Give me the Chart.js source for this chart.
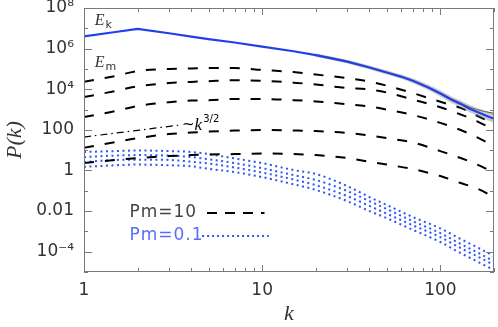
<!DOCTYPE html>
<html>
<head>
<meta charset="utf-8">
<script src="https://cdn.jsdelivr.net/npm/chart.js@4.4.0/dist/chart.umd.min.js"></script>
<style>
  html, body { margin: 0; padding: 0; background: #fff; }
</style>
</head>
<body>
<canvas id="myChart" width="498" height="327"></canvas>
<script>
// wavenumbers used by the magnetic curves
const kVals = [1, 1.5, 2, 3, 4, 5, 7, 10, 15, 20, 30, 40, 50, 70, 100, 130, 160, 200];
// finer grid for the kinetic spectrum
const ekK = [1, 1.5, 2, 3, 4, 5, 7, 10, 15, 20, 25, 30, 40, 50, 60, 70, 85, 100, 115, 130, 145, 160, 180, 200];
const ekVals = [4.0e6, 6.6e6, 9.3e6, 5.7e6, 3.9e6, 2.95e6, 2.0e6, 1.26e6, 7.4e5, 4.8e5, 3.2e5, 2.3e5, 1.18e5, 6.7e4, 4.2e4, 2.6e4, 1.26e4, 6.2e3, 3.1e3, 1.9e3, 1.13e3, 780, 510, 355];

// grey spread of the other runs around E_k (only visible at high k)
const bandK     = [20, 25, 30, 40, 50, 60, 70, 85, 100, 115, 130, 145, 160, 180, 200];
const ekHiVals  = [4.85e5, 3.25e5, 2.35e5, 1.22e5, 7.0e4, 4.5e4, 2.85e4, 1.42e4, 7.2e3, 3.7e3, 2.3e3, 1.45e3, 1.03e3, 700, 510];
const ekLoVals  = [4.75e5, 3.15e5, 2.25e5, 1.14e5, 6.4e4, 3.95e4, 2.4e4, 1.12e4, 5.3e3, 2.6e3, 1.55e3, 900, 610, 390, 265];
const topK      = [70, 85, 100, 115, 130, 145, 160, 180, 200];
const ekTopVals = [2.65e4, 1.3e4, 6.6e3, 3.4e3, 2.1e3, 1.35e3, 1.0e3, 780, 640];

// magnetic spectra, Pm=10 (black dashed)
const emA = [2.3e4, 4.5e4, 7.9e4, 9.9e4, 1.05e5, 1.1e5, 1.1e5, 8.9e4, 7.0e4, 5.3e4, 3.5e4, 2.4e4, 1.5e4, 6.5e3, 2.4e3, 1.2e3, 510, 200];
const emB = [4.1e3, 8.2e3, 1.4e4, 2.0e4, 2.3e4, 2.5e4, 2.8e4, 2.6e4, 2.1e4, 1.7e4, 1.15e4, 9.7e3, 6.9e3, 3.1e3, 1.3e3, 570, 270, 98];
const emC = [430, 840, 1.5e3, 2.3e3, 2.75e3, 2.9e3, 3.3e3, 3.3e3, 2.9e3, 2.5e3, 1.8e3, 1.4e3, 1.0e3, 540, 220, 98, 44, 16];
const emD = [13, 25, 39, 62, 74, 82, 92, 98, 93, 87, 70, 52, 39, 24, 9.0, 4.1, 2.0, 0.79];
const emE = [2.3, 3.3, 4.1, 5.1, 5.7, 6.1, 6.4, 6.8, 6.4, 5.7, 4.1, 2.7, 1.95, 1.17, 0.53, 0.24, 0.13, 0.049];

// magnetic spectra, Pm=0.1 (blue dotted)
const lowA = [8.1, 9.0, 9.6, 9.0, 8.1, 6.4, 3.9, 2.3, 1.05, 0.67, 0.17, 0.049, 0.020, 0.0051, 0.0014, 4.2e-4, 1.7e-4, 6.1e-5];
const lowB = [4.6, 5.4, 5.7, 5.4, 4.6, 3.6, 2.3, 1.3, 0.59, 0.34, 0.097, 0.031, 0.0126, 0.0032, 8.2e-4, 2.4e-4, 9.5e-5, 3.4e-5];
const lowC = [2.6, 3.3, 3.4, 3.3, 2.7, 2.2, 1.4, 0.79, 0.36, 0.19, 0.055, 0.018, 0.0075, 0.0020, 5.2e-4, 1.5e-4, 6.1e-5, 2.2e-5];
const lowD = [1.5, 1.8, 1.95, 1.8, 1.6, 1.2, 0.83, 0.47, 0.21, 0.11, 0.031, 0.010, 0.0045, 0.0012, 3.0e-4, 8.5e-5, 3.4e-5, 1.24e-5];

// ~k^(3/2) guide line
const refK = [1, 3.4];
const refVals = [44, 170];

// axis ticks
const xTickVals = [1, 2, 3, 4, 5, 6, 7, 8, 9, 10, 20, 30, 40, 50, 60, 70, 80, 90, 100, 200];
const xLabelVals = [1, 10, 100];
const xLabels = ['1', '10', '100'];
const yExps = [-5, -4, -3, -2, -1, 0, 1, 2, 3, 4, 5, 6, 7, 8];
const yLabelExps = [-4, -2, 0, 2, 4, 6, 8];
const yLabels = ['10\u207B\u2074', '0.01', '1', '100', '10\u2074', '10\u2076', '10\u2078'];

const BLUE = '#2340e6';
const DOT_BLUE = '#2f55f5';

function pts(ks, vals) {
    return ks.map((k, i) => ({x: k, y: vals[i]}));
}

function dashed(vals) {
    return {data: pts(kVals, vals), borderColor: '#000', borderWidth: 2, borderDash: [10, 11], cubicInterpolationMode: 'monotone', order: 3};
}
function dotted(vals) {
    return {data: pts(kVals, vals), borderColor: DOT_BLUE, borderWidth: 2, borderDash: [2, 3.5], cubicInterpolationMode: 'monotone', order: 4};
}
function band(ks, vals, color, width) {
    return {data: pts(ks, vals), borderColor: color, borderWidth: width, cubicInterpolationMode: 'monotone', order: 2};
}

var datasets = [
    {data: pts(ekK, ekVals), borderColor: BLUE, borderWidth: 2.2, tension: 0, order: 0},
    band(bandK, ekHiVals, 'rgba(150,150,150,0.5)', 3),
    band(bandK, ekLoVals, 'rgba(150,150,150,0.5)', 3),
    band(topK, ekTopVals, '#333', 1),
    dashed(emA), dashed(emB), dashed(emC), dashed(emD), dashed(emE),
    dotted(lowA), dotted(lowB), dotted(lowC), dotted(lowD),
    {data: pts(refK, refVals), borderColor: '#000', borderWidth: 1.2, borderDash: [7, 4, 1.5, 4], tension: 0, order: 3}
];

// inward tick marks, grey frame, labels in the plot
const extras = {
    id: 'extras',
    afterDraw(chart) {
        const {ctx, chartArea: a, scales: {x, y}} = chart;
        ctx.save();
        ctx.strokeStyle = '#7a7a7a';
        ctx.lineWidth = 1;
        ctx.beginPath();
        xTickVals.forEach(v => {
            const px = Math.round(x.getPixelForValue(v)) + 0.5;
            const len = xLabelVals.includes(v) ? 7 : 4;
            ctx.moveTo(px, a.bottom); ctx.lineTo(px, a.bottom - len);
            ctx.moveTo(px, a.top); ctx.lineTo(px, a.top + len);
        });
        yExps.forEach(e => {
            const py = Math.round(y.getPixelForValue(Math.pow(10, e))) + 0.5;
            const len = yLabelExps.includes(e) ? 8 : 4;
            ctx.moveTo(a.left, py); ctx.lineTo(a.left + len, py);
            ctx.moveTo(a.right, py); ctx.lineTo(a.right - len, py);
        });
        ctx.stroke();
        ctx.strokeRect(Math.round(a.left) + 0.5, Math.round(a.top) + 0.5, Math.round(a.right - a.left) - 1, Math.round(a.bottom - a.top) - 1);

        ctx.textBaseline = 'alphabetic';
        ctx.textAlign = 'left';
        // E_k, E_m
        const ex = x.getPixelForValue(1.15);
        [[1.45e7, 'k'], [1.3e5, 'm']].forEach(([p, sub]) => {
            const ey = y.getPixelForValue(p);
            ctx.fillStyle = '#333';
            ctx.font = 'italic 16px "Liberation Serif"';
            ctx.fillText('E', ex, ey);
            const w = ctx.measureText('E').width;
            ctx.font = '11px "DejaVu Sans"';
            ctx.fillText(sub, ex + w + 1, ey + 3);
        });
        // ~k^{3/2}
        let tx = x.getPixelForValue(3.55);
        const ty = y.getPixelForValue(98);
        ctx.fillStyle = '#000';
        ctx.font = '15px "DejaVu Sans"';
        ctx.fillText('~', tx, ty - 1);
        tx += ctx.measureText('~').width;
        ctx.font = 'italic 17px "Liberation Serif"';
        ctx.fillText('k', tx, ty);
        tx += ctx.measureText('k').width + 1;
        ctx.font = '10px "DejaVu Sans"';
        ctx.fillText('3/2', tx, ty - 8);

        // legend
        const lx = x.getPixelForValue(1.8);
        const rows = [
            {p: 0.008, text: 'Pm=10', color: '#444', line: '#000', dash: [10, 8], x0: 4.9, x1: 10.3},
            {p: 5.9e-4, text: 'Pm=0.1', color: '#5a6cff', line: DOT_BLUE, dash: [2, 3], x0: 4.6, x1: 10.9}
        ];
        ctx.font = '17px "DejaVu Sans"';
        ctx.letterSpacing = '1px';
        ctx.textBaseline = 'middle';
        rows.forEach(r => {
            const ly = Math.round(y.getPixelForValue(r.p));
            ctx.fillStyle = r.color;
            ctx.fillText(r.text, lx, ly);
            ctx.beginPath();
            ctx.setLineDash(r.dash);
            ctx.strokeStyle = r.line;
            ctx.lineWidth = 2;
            ctx.moveTo(x.getPixelForValue(r.x0), ly);
            ctx.lineTo(x.getPixelForValue(r.x1), ly);
            ctx.stroke();
        });
        ctx.restore();
    }
};

const ctx = document.getElementById('myChart').getContext('2d');
const myChart = new Chart(ctx, {
    type: 'line',
    data: {datasets},
    options: {
        responsive: false,
        animation: false,
        events: [],
        layout: {padding: {top: 8, right: 4, left: 0, bottom: 0}},
        elements: {point: {radius: 0}},
        plugins: {legend: {display: false}, tooltip: {enabled: false}},
        scales: {
            x: {
                type: 'logarithmic', min: 1, max: 200,
                grid: {display: false, drawTicks: false},
                border: {display: false},
                afterBuildTicks: s => { s.ticks = xTickVals.map(v => ({value: v})); },
                ticks: {
                    autoSkip: false, maxRotation: 0, padding: 8, color: '#333',
                    font: {family: 'DejaVu Sans', size: 17},
                    callback: v => { const i = xLabelVals.indexOf(v); return i >= 0 ? xLabels[i] : ''; }
                },
                title: {display: true, text: 'k', color: '#333', padding: {top: 0, bottom: 0},
                        font: {family: 'Liberation Serif', style: 'italic', size: 22}},
                afterFit: s => { s.height = 55; s.paddingLeft = 0; s.paddingRight = 0; }
            },
            y: {
                type: 'logarithmic', min: 1e-5, max: 1e8,
                grid: {display: false, drawTicks: false},
                border: {display: false},
                afterBuildTicks: s => { s.ticks = yExps.map(e => ({value: Math.pow(10, e)})); },
                ticks: {
                    autoSkip: false, padding: 10, color: '#333',
                    font: {family: 'DejaVu Sans', size: 17},
                    callback: v => { const i = yLabelExps.indexOf(Math.round(Math.log10(v))); return i >= 0 ? yLabels[i] : ''; }
                },
                title: {display: true, text: 'P(k)', color: '#333', padding: {top: 2, bottom: 0},
                        font: {family: 'Liberation Serif', style: 'italic', size: 22}},
                afterFit: s => { s.width = 84; s.paddingTop = 0; s.paddingBottom = 0; }
            }
        }
    },
    plugins: [extras]
});
</script>
</body>
</html>
